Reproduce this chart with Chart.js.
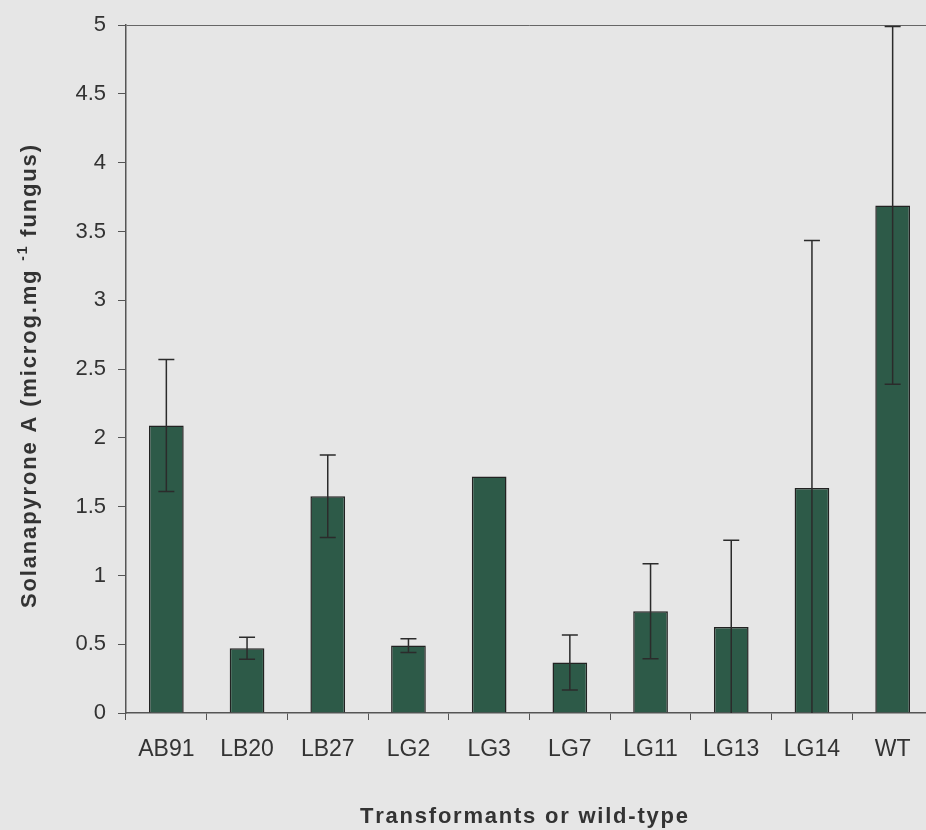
<!DOCTYPE html>
<html>
<head>
<meta charset="utf-8">
<script src="https://cdn.jsdelivr.net/npm/chart.js@4.4.0/dist/chart.umd.min.js"></script>
<style>
  html, body { margin: 0; padding: 0; overflow: hidden; background: #e6e6e6; }
  #wrap { width: 940px; height: 830px; }
</style>
</head>
<body>
<div id="wrap"><canvas id="mycanvas" width="940" height="830"></canvas></div>
<script>
var strains = ["AB91", "LB20", "LB27", "LG2", "LG3", "LG7", "LG11", "LG13", "LG14", "WT"];
var solanapyrone = [2.09, 0.47, 1.575, 0.49, 1.72, 0.367, 0.74, 0.625, 1.635, 3.69];
var errors = [0.48, 0.08, 0.30, 0.05, 0, 0.20, 0.345, 0.63, 1.80, 1.30];
var yTicks = [0, 0.5, 1, 1.5, 2, 2.5, 3, 3.5, 4, 4.5, 5];

var fontFamily = "'Liberation Sans', Arial, sans-serif";

// draw text one char at a time so the wide old-Excel spacing can be matched
function spacedWidth(c, parts) {
	var w = 0, n = 0;
	parts.forEach(function(p) {
		c.font = p.font;
		for (var k = 0; k < p.text.length; k++) { w += c.measureText(p.text[k]).width; n++; }
	});
	return { w: w, n: n };
}
function drawSpaced(c, parts, x, y, totalWidth) {
	var m = spacedWidth(c, parts);
	var spacing = (totalWidth - m.w) / (m.n - 1);
	var cx = x;
	parts.forEach(function(p) {
		c.font = p.font;
		for (var k = 0; k < p.text.length; k++) {
			c.fillText(p.text[k], cx, y + (p.dy || 0));
			cx += c.measureText(p.text[k]).width + spacing;
		}
	});
}

var bgPlugin = {
	id: "bg",
	beforeDraw: function(chart) {
		var c = chart.ctx;
		c.save();
		c.fillStyle = "#e6e6e6";
		c.fillRect(0, 0, chart.width, chart.height);
		c.restore();
	}
};

var extrasPlugin = {
	id: "extras",
	afterDatasetsDraw: function(chart) {
		var c = chart.ctx;
		var y = chart.scales.y;
		var meta = chart.getDatasetMeta(0);
		c.save();
		c.strokeStyle = "#2b2b2b";
		c.lineWidth = 1.5;
		for (var i = 0; i < solanapyrone.length; i++) {
			if (!errors[i]) continue;
			var x = meta.data[i].x;
			var hi = solanapyrone[i] + errors[i];
			var lo = solanapyrone[i] - errors[i];
			var yHi = y.getPixelForValue(hi);
			var yLo = y.getPixelForValue(Math.max(lo, 0));
			c.beginPath();
			c.moveTo(x, yHi);
			c.lineTo(x, yLo);
			c.moveTo(x - 8, yHi);
			c.lineTo(x + 8, yHi);
			if (lo > 0) {
				c.moveTo(x - 8, yLo);
				c.lineTo(x + 8, yLo);
			}
			c.stroke();
		}
		c.restore();
	},
	afterDraw: function(chart) {
		var c = chart.ctx;
		var bold = "bold 22px " + fontFamily;
		c.save();
		c.fillStyle = "#333";
		c.textAlign = "left";
		c.textBaseline = "alphabetic";
		// x title
		drawSpaced(c, [{ text: "Transformants or wild-type", font: bold }], 360, 823, 328);
		// y title, rotated
		c.translate(36, 608);
		c.rotate(-Math.PI / 2);
		drawSpaced(c, [
			{ text: "Solanapyrone A (microg.mg ", font: bold },
			{ text: "-1", font: "bold 14px " + fontFamily, dy: -9 },
			{ text: " fungus)", font: bold }
		], 0, 0, 463);
		c.restore();
	}
};

var ctx = document.getElementById("mycanvas");

var chart = new Chart(ctx, {
	type: "bar",
	data: {
		labels: strains,
		datasets: [{
			label: "Solanapyrone A",
			data: solanapyrone,
			backgroundColor: "#2d5a48",
			borderColor: "#222",
			borderWidth: 1.5,
			barPercentage: 0.43,
			categoryPercentage: 1.0
		}]
	},
	options: {
		responsive: false,
		animation: false,
		layout: { padding: { left: 0, right: 7, top: 19, bottom: 0 } },
		plugins: {
			legend: { display: false },
			tooltip: { enabled: false }
		},
		scales: {
			x: {
				offset: true,
				grid: {
					offset: true,
					drawOnChartArea: false,
					color: "#555",
					tickLength: 7
				},
				border: { color: "#555", width: 1.5 },
				ticks: {
					color: "#333",
					font: { family: fontFamily, size: 23 },
					padding: 16,
					maxRotation: 0
				},
				afterFit: function(scale) { scale.height = 830 - 713; }
			},
			y: {
				min: 0,
				max: 5,
				afterBuildTicks: function(scale) {
					scale.ticks = yTicks.map(function(v) { return { value: v }; });
				},
				grid: {
					color: function(c) { return c.tick && c.tick.value === 5 ? "#666" : "rgba(0,0,0,0)"; },
					tickColor: "#555",
					tickLength: 8
				},
				border: { color: "#555", width: 1.5 },
				ticks: {
					color: "#333",
					font: { family: fontFamily, size: 22 },
					padding: 12,
					callback: function(v) { return String(v); }
				},
				afterFit: function(scale) { scale.width = 126; }
			}
		}
	},
	plugins: [bgPlugin, extrasPlugin]
});
</script>
</body>
</html>
